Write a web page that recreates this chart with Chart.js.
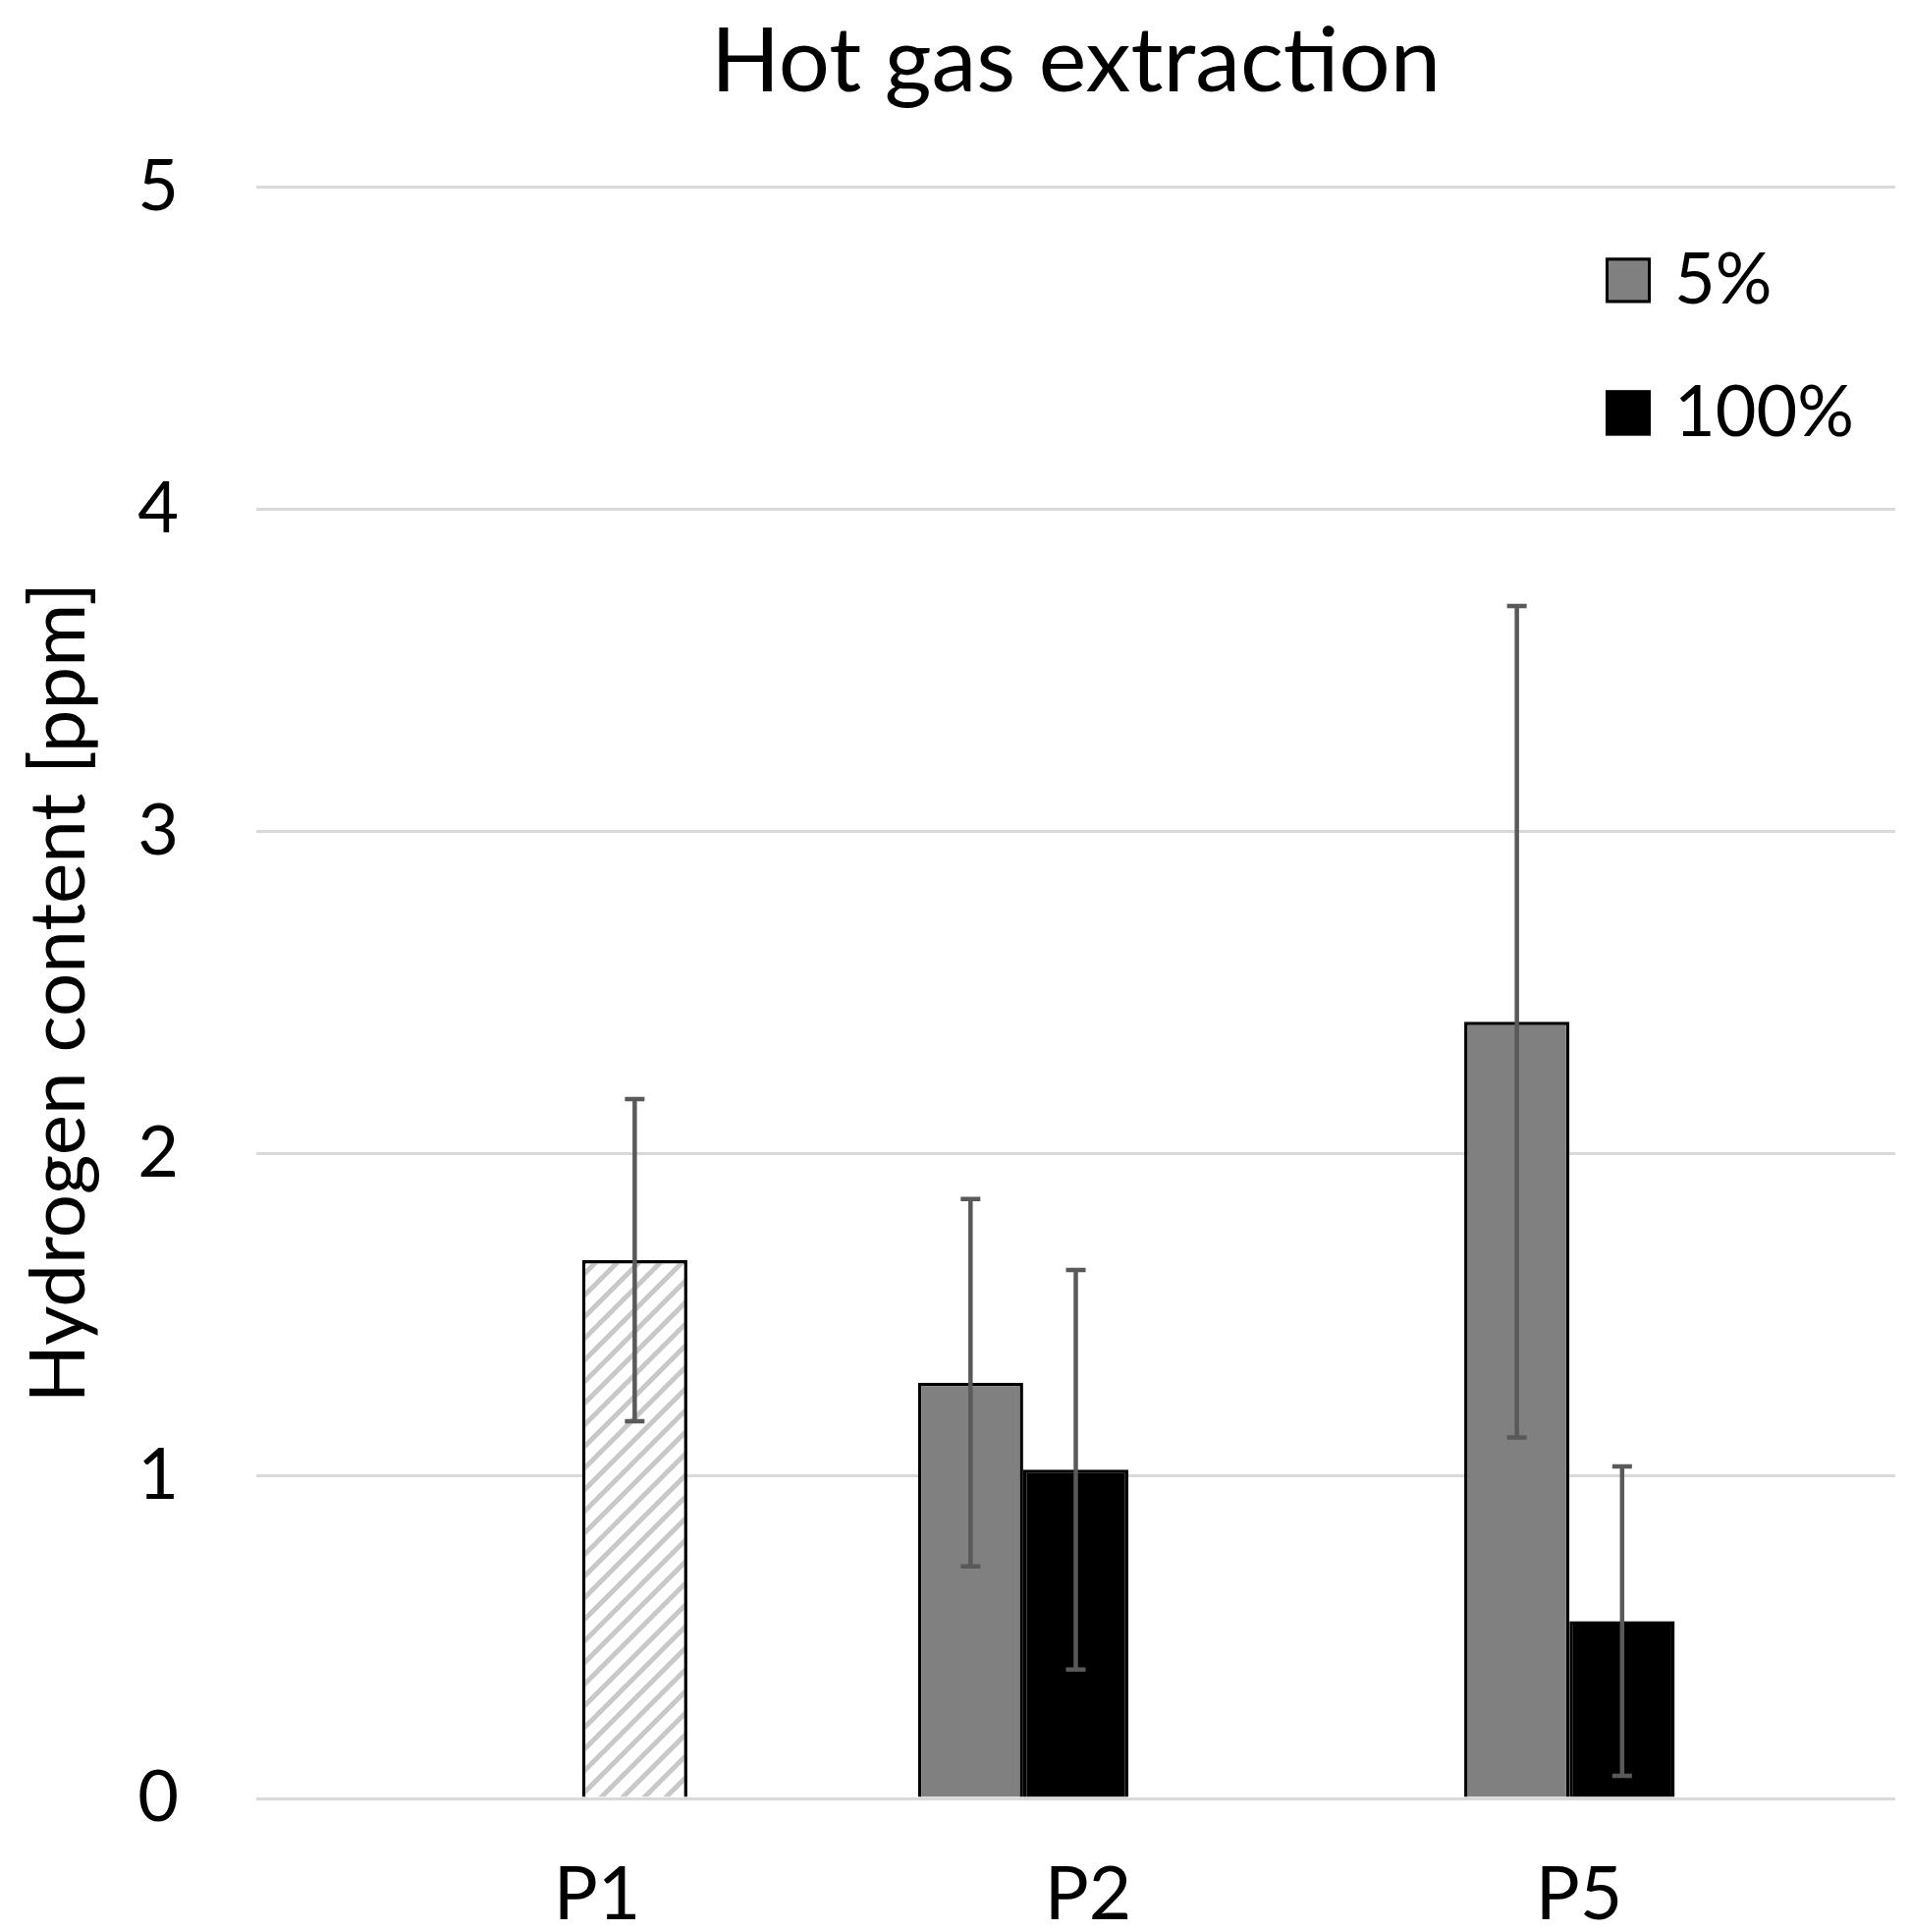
<!DOCTYPE html>
<html lang="en">
<head>
<meta charset="UTF-8">
<title>Hot gas extraction</title>
<script src="https://cdn.jsdelivr.net/npm/chart.js"></script>
<style>
  html, body { margin: 0; padding: 0; background: #fff; }
</style>
</head>
<body>
<canvas id="myChart" width="1945" height="1967"></canvas>
<script>
// data
const categories = ['P1', 'P2', 'P5'];
const values5 = [null, 1.29, 2.41];
const values100 = [null, 1.02, 0.55];
const valuesRef = [1.67, null, null];      // hatched P1 bar (not in legend)
const err5 = [null, 0.57, 1.29];
const err100 = [null, 0.62, 0.48];
const errRef = [0.50, null, null];
const yTicks = [0, 1, 2, 3, 4, 5];

const FONT = 'Lato';

// light grey diagonal hatch for the P1 bar
function hatchPattern() {
  const s = 22;
  const c = document.createElement('canvas');
  c.width = s; c.height = s;
  const g = c.getContext('2d');
  g.fillStyle = '#fff';
  g.fillRect(0, 0, s, s);
  g.strokeStyle = '#c8c8c8';
  g.lineWidth = 5;
  g.beginPath();
  g.moveTo(0, s); g.lineTo(s, 0);
  g.moveTo(-s, s); g.lineTo(s, -s);
  g.moveTo(0, 2 * s); g.lineTo(2 * s, 0);
  g.stroke();
  return g.createPattern(c, 'repeat');
}

// symmetric error bars, drawn from the y scale
const errorBars = {
  id: 'errorBars',
  afterDatasetsDraw(chart) {
    const ctx = chart.ctx;
    const y = chart.scales.y;
    chart.data.datasets.forEach((ds, i) => {
      const meta = chart.getDatasetMeta(i);
      meta.data.forEach((bar, j) => {
        const v = ds.data[j], e = ds.errors[j];
        if (v == null || e == null) return;
        const top = y.getPixelForValue(v + e);
        const bot = y.getPixelForValue(v - e);
        ctx.save();
        ctx.strokeStyle = '#595959';
        ctx.lineWidth = 4.5;
        ctx.beginPath();
        ctx.moveTo(bar.x, top); ctx.lineTo(bar.x, bot);
        ctx.moveTo(bar.x - 10, top); ctx.lineTo(bar.x + 10, top);
        ctx.moveTo(bar.x - 10, bot); ctx.lineTo(bar.x + 10, bot);
        ctx.stroke();
        ctx.restore();
      });
    });
  }
};

// legend sits inside the plot, top right
const insideLegend = {
  id: 'insideLegend',
  afterDraw(chart) {
    const { ctx, chartArea } = chart;
    const items = chart.data.datasets.filter(d => d.inLegend);
    ctx.save();
    items.forEach((ds, k) => {
      const cy = chartArea.top + 95 + k * 135;
      const x = chartArea.right - 295;
      ctx.fillStyle = ds.backgroundColor;
      ctx.fillRect(x, cy - 23, 46, 46);
      ctx.strokeStyle = '#000';
      ctx.lineWidth = 3;
      ctx.strokeRect(x + 1.5, cy - 21.5, 43, 43);
      ctx.fillStyle = '#000';
      ctx.font = '72px ' + FONT;
      ctx.textBaseline = 'middle';
      ctx.fillText(ds.label, x + 70, cy);
    });
    ctx.restore();
  }
};

const ctx = document.getElementById('myChart').getContext('2d');
new Chart(ctx, {
  type: 'bar',
  data: {
    labels: categories,
    datasets: [
      { label: '5%', data: values5, errors: err5, inLegend: true,
        backgroundColor: '#808080', borderColor: '#000', borderWidth: 3.5 },
      { label: '100%', data: values100, errors: err100, inLegend: true,
        backgroundColor: '#000', borderColor: '#000', borderWidth: 3.5 },
      { label: 'P1', data: valuesRef, errors: errRef, inLegend: false,
        backgroundColor: hatchPattern(), borderColor: '#000', borderWidth: 3.5 }
    ]
  },
  options: {
    responsive: false,
    animation: false,
    layout: { padding: { left: 0, right: 15, top: 0, bottom: 1 } },
    datasets: { bar: { categoryPercentage: 0.578, barPercentage: 1 } },
    plugins: {
      legend: { display: false },
      tooltip: { enabled: false },
      title: {
        display: true,
        fullSize: false,
        text: 'Hot gas extraction',
        color: '#000',
        font: { family: FONT, size: 92, weight: 'normal' },
        padding: { top: 8, bottom: 72 }
      }
    },
    scales: {
      x: { display: false },
      // category names sit a little off the bar groups in the original
      xl: {
        type: 'linear',
        position: 'bottom',
        offset: false,
        bounds: 'data',
        min: 0.306,
        max: 3.644,
        afterBuildTicks: axis => { axis.ticks = categories.map((c, i) => ({ value: i + 1 })); },
        afterFit: axis => { axis.height = 135; },
        ticks: {
          callback: v => categories[v - 1],
          color: '#000',
          font: { family: FONT, size: 75 },
          padding: 46
        },
        grid: { display: false },
        border: { display: false }
      },
      y: {
        min: 0,
        max: 5,
        afterBuildTicks: axis => { axis.ticks = yTicks.map(v => ({ value: v })); },
        afterFit: axis => { axis.width = 261; },
        ticks: { color: '#000', font: { family: FONT, size: 72 }, padding: 79 },
        grid: { color: '#d9d9d9', lineWidth: 3, drawTicks: false },
        border: { display: false },
        title: {
          display: true,
          text: 'Hydrogen content [ppm]',
          color: '#000',
          font: { family: FONT, size: 78 },
          padding: { top: 14, bottom: 0 }
        }
      }
    }
  },
  plugins: [errorBars, insideLegend]
});
</script>
</body>
</html>
